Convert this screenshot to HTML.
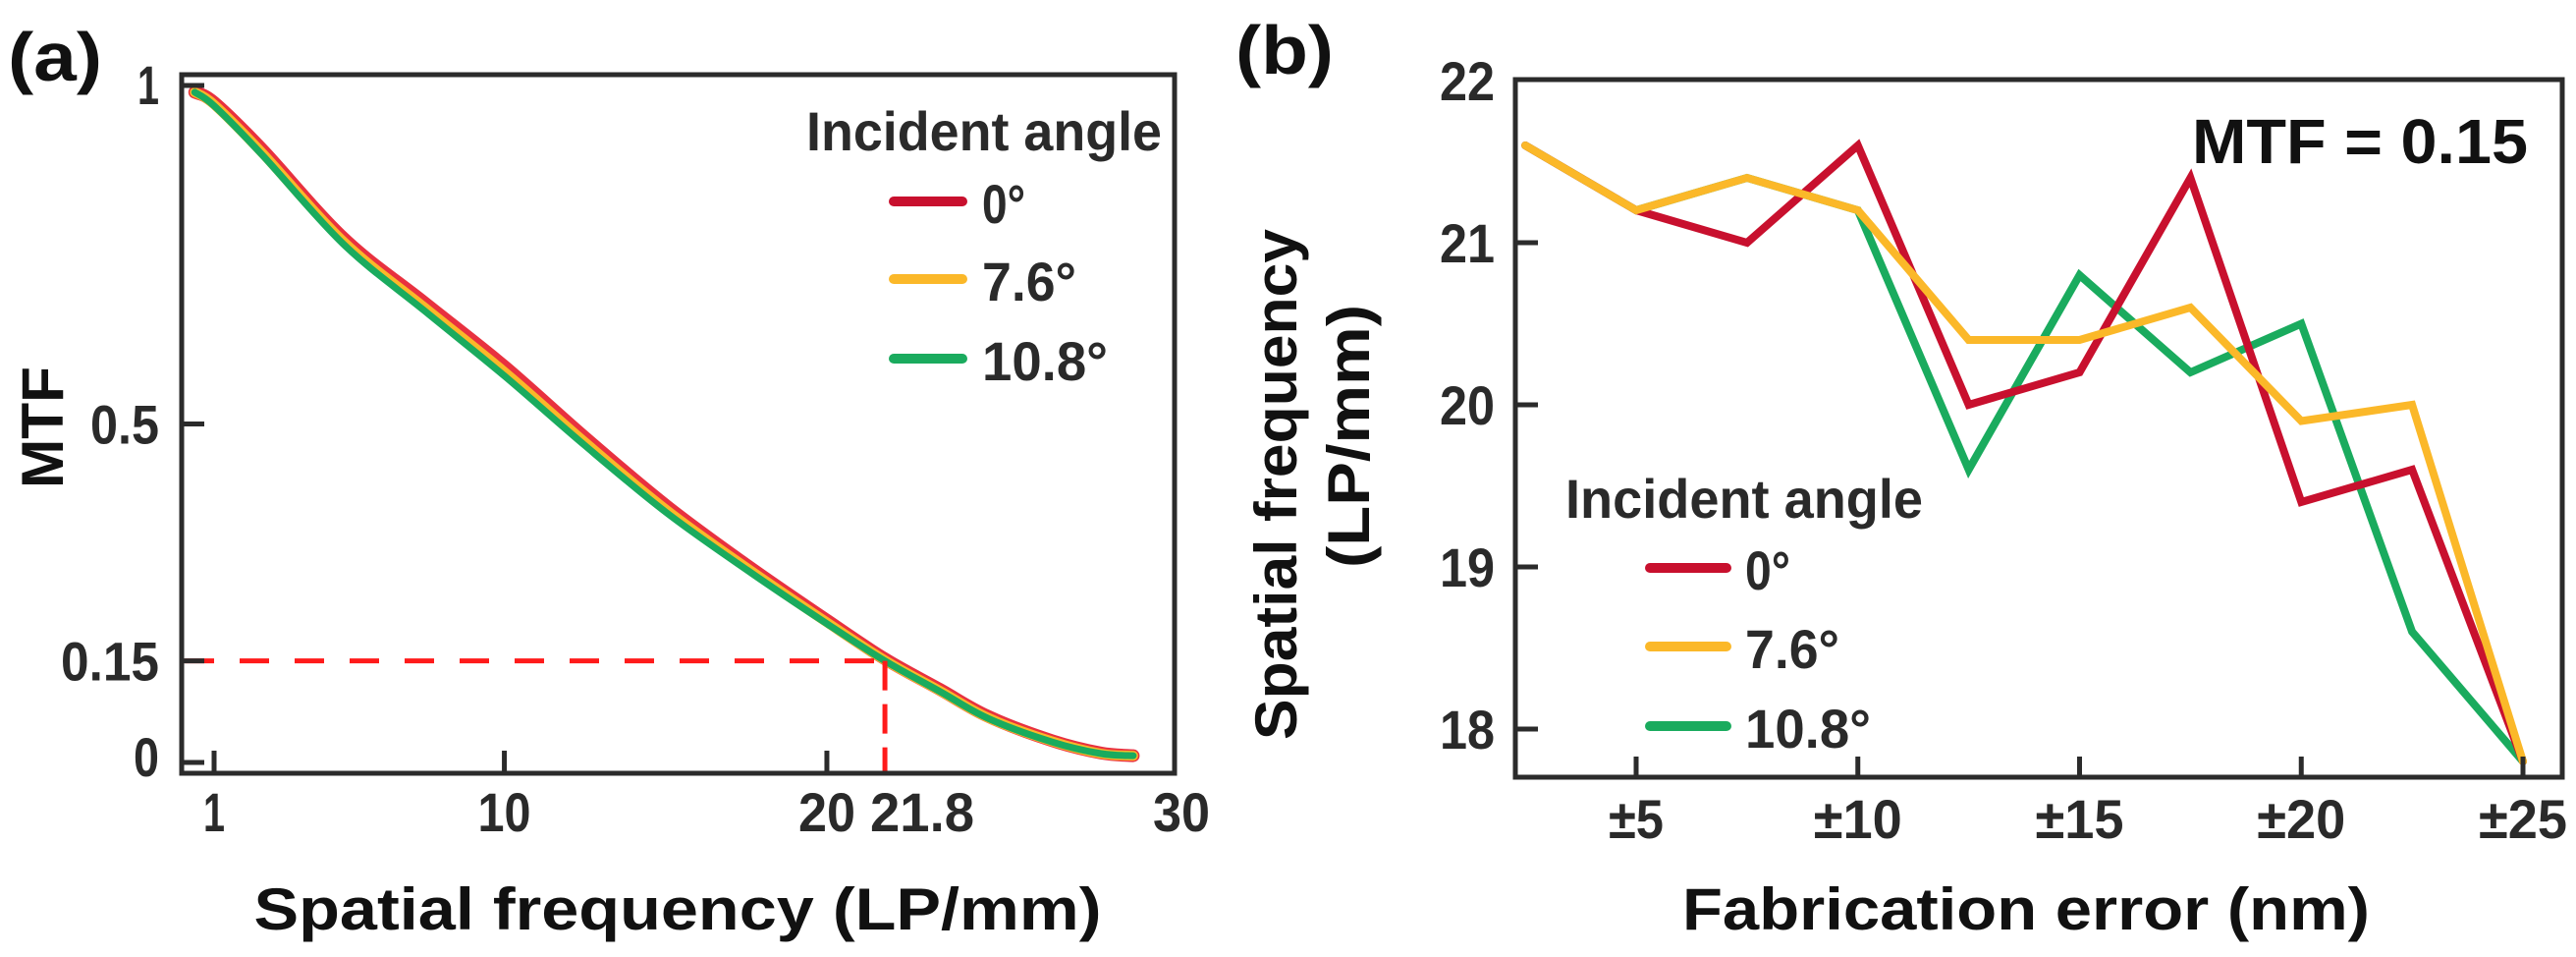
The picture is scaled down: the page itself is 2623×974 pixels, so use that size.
<!DOCTYPE html>
<html><head><meta charset="utf-8"><style>
html,body{margin:0;padding:0;background:#fff;}
svg{display:block;}
text{font-family:"Liberation Sans Narrow","Liberation Sans",sans-serif;}
.tk{font-size:56px;fill:#2a2a2a;font-weight:bold;}
.ttl{font-family:"Liberation Sans",sans-serif;font-weight:bold;font-size:60px;fill:#111;}
</style></head><body>
<svg id="fig" width="2623" height="974" viewBox="0 0 2623 974" xmlns="http://www.w3.org/2000/svg">
<g id="pa"></g>
<g id="pb"></g>
</svg>
<script>
// Panel (a) data
const aFreq = [0.4,1,2.5,5,7.5,10,12.5,15,17.5,20,21.8,23.5,25,27,28.5,29.5];
const aMTF0 = [0.99,0.975,0.905,0.775,0.68,0.585,0.48,0.38,0.292,0.21,0.153,0.108,0.068,0.032,0.014,0.01];
const aMTF76 = [0.99,0.972,0.9,0.77,0.673,0.577,0.473,0.374,0.288,0.207,0.151,0.106,0.066,0.031,0.013,0.01];
const aMTF108 = [0.99,0.97,0.897,0.766,0.668,0.571,0.468,0.37,0.285,0.205,0.15,0.105,0.065,0.03,0.013,0.01];
const aXTicks = [1,10,20,21.8,30];
const aXTickLabels = ["1","10","20","21.8","30"];
const aYTicks = [0,0.15,0.5,1];
const aYTickLabels = ["0","0.15","0.5","1"];
// Panel (b) data
const bErr = [2.5,5,7.5,10,12.5,15,17.5,20,22.5,25];
const bFreq0 = [21.6,21.2,21.0,21.6,20.0,20.2,21.4,19.4,19.6,17.8];
const bFreq76 = [21.6,21.2,21.4,21.2,20.4,20.4,20.6,19.9,20.0,17.8];
const bFreq108 = [21.6,21.2,21.4,21.2,19.6,20.8,20.2,20.5,18.6,17.8];
const bXTicks = [5,10,15,20,25];
const bXTickLabels = ["±5","±10","±15","±20","±25"];
const bYTicks = [18,19,20,21,22];
const bYTickLabels = ["18","19","20","21","22"];

const NS="http://www.w3.org/2000/svg";
function mk(parent,tag,attrs,txt){const e=document.createElementNS(NS,tag);for(const k in attrs)e.setAttribute(k,attrs[k]);if(txt!==undefined)e.textContent=txt;parent.appendChild(e);return e;}

const pa=document.getElementById('pa');
const ax=v=>218+(v-1)*32.84;
const ay=v=>776-v*689;
const RED="#c8102e",YEL="#fbb829",GRN="#1aab5e";
function pathOf(xs,ys,fx,fy){return xs.map((x,i)=>(i?'L':'M')+fx(x).toFixed(1)+','+fy(ys[i]).toFixed(1)).join(' ');}
function smoothOf(xs,ys,fx,fy){
  const P=xs.map((x,i)=>[fx(x),fy(ys[i])]);
  let d='M'+P[0][0].toFixed(1)+','+P[0][1].toFixed(1);
  for(let i=0;i<P.length-1;i++){
    const p0=P[i-1]||P[i],p1=P[i],p2=P[i+1],p3=P[i+2]||P[i+1];
    const c1=[p1[0]+(p2[0]-p0[0])/6,p1[1]+(p2[1]-p0[1])/6];
    const c2=[p2[0]-(p3[0]-p1[0])/6,p2[1]-(p3[1]-p1[1])/6];
    d+=' C'+c1.map(v=>v.toFixed(1)).join(',')+' '+c2.map(v=>v.toFixed(1)).join(',')+' '+p2.map(v=>v.toFixed(1)).join(',');
  }
  return d;
}
let e;
e=mk(pa,'path',{d:smoothOf(aFreq,aMTF0,ax,ay),fill:'none',stroke:'#e8313f','stroke-width':13,'stroke-linecap':'round','stroke-linejoin':'round'});


e=mk(pa,'path',{d:smoothOf(aFreq,aMTF76,ax,ay),fill:'none',stroke:YEL,'stroke-width':10,'stroke-linecap':'round','stroke-linejoin':'round'});


e=mk(pa,'path',{d:smoothOf(aFreq,aMTF108,ax,ay),fill:'none',stroke:GRN,'stroke-width':7,'stroke-linecap':'round','stroke-linejoin':'round'});


e=mk(pa,'line',{x1:188,y1:ay(0.15),x2:ax(21.8),y2:ay(0.15),stroke:'#ff1a1a','stroke-width':5,'stroke-dasharray':'30 26'});


e=mk(pa,'line',{x1:ax(21.8),y1:ay(0.15),x2:ax(21.8),y2:787,stroke:'#ff1a1a','stroke-width':5,'stroke-dasharray':'30 14'});


e=mk(pa,'rect',{x:185,y:76,width:1011,height:711,fill:'none',stroke:'#2b2b2b','stroke-width':5});


aXTicks.forEach((t,i)=>{
  if(t!==21.8 && t!==30){const l=mk(pa,'line',{x1:ax(t),y1:787,x2:ax(t),y2:764,stroke:'#2b2b2b','stroke-width':5});
  
  }
  let cx=ax(t); if(t===20)cx=842; if(t===21.8)cx=939; if(t===30)cx=1203;
  const w={"1":22,"10":54,"20":58,"21.8":106,"30":58}[aXTickLabels[i]];
  const tx=mk(pa,'text',{class:'tk',x:cx,y:846,'text-anchor':'middle',textLength:w,lengthAdjust:'spacingAndGlyphs'},aXTickLabels[i]);
  
  
});
aYTicks.forEach((t,i)=>{
  const l=mk(pa,'line',{x1:187,y1:ay(t),x2:208,y2:ay(t),stroke:'#2b2b2b','stroke-width':5});
  
  
  const w={"0":26,"0.15":100,"0.5":70,"1":22}[aYTickLabels[i]];
  let cy=ay(t)+20; if(t===1)cy=106; if(t===0)cy=790;
  const tx=mk(pa,'text',{class:'tk',x:162,y:cy,'text-anchor':'end',textLength:w,lengthAdjust:'spacingAndGlyphs'},aYTickLabels[i]);
  
  
});
e=mk(pa,'text',{class:'ttl',x:690,y:946,'text-anchor':'middle',textLength:863,lengthAdjust:'spacingAndGlyphs'},'Spatial frequency (LP/mm)');


e=mk(pa,'text',{class:'ttl',x:0,y:0,'text-anchor':'middle',transform:'translate(64,435) rotate(-90)',textLength:124,lengthAdjust:'spacingAndGlyphs','font-size':66},'MTF');


e=mk(pa,'text',{x:8,y:82,'font-size':70,'font-weight':'bold',fill:'#111',textLength:96,lengthAdjust:'spacingAndGlyphs'},'(a)');


e=mk(pa,'text',{class:'tk',x:821,y:153,textLength:362,lengthAdjust:'spacingAndGlyphs','font-size':54},'Incident angle');


[[RED,'0°',205,44],[YEL,'7.6°',284,96],[GRN,'10.8°',365,128]].forEach(([c,t,y,w])=>{
  const l=mk(pa,'line',{x1:910,y1:y,x2:980,y2:y,stroke:c,'stroke-width':10,'stroke-linecap':'round'});
  
  
  const tx=mk(pa,'text',{class:'tk',x:1000,y:y+22,textLength:w,lengthAdjust:'spacingAndGlyphs','font-size':60},t);
  
  
});

const pb=document.getElementById('pb');
const bx=v=>1666+(v-5)*45.15;
const by=v=>742-(v-18)*165;
[[bFreq108,GRN,'line-10-8deg'],[bFreq0,RED,'line-0deg'],[bFreq76,YEL,'line-7-6deg']].forEach(([ys,c,n])=>{
  const p=mk(pb,'path',{d:pathOf(bErr,ys,bx,by),fill:'none',stroke:c,'stroke-width':8,'stroke-linejoin':'miter','stroke-linecap':'round'});
  
  
});
e=mk(pb,'rect',{x:1543,y:81,width:1066,height:710,fill:'none',stroke:'#2b2b2b','stroke-width':5});


bXTicks.forEach((t,i)=>{
  const l=mk(pb,'line',{x1:bx(t),y1:789,x2:bx(t),y2:770,stroke:'#2b2b2b','stroke-width':5});
  
  
  const w=bXTickLabels[i].length===2?56:90;
  const tx=mk(pb,'text',{class:'tk',x:bx(t),y:853,'text-anchor':'middle',textLength:w,lengthAdjust:'spacingAndGlyphs'},bXTickLabels[i]);
  
  
});
bYTicks.forEach((t,i)=>{
  if(t!==22){const l=mk(pb,'line',{x1:1545,y1:by(t),x2:1566,y2:by(t),stroke:'#2b2b2b','stroke-width':5});
  
  }
  const tx=mk(pb,'text',{class:'tk',x:1522,y:by(t)+20,'text-anchor':'end',textLength:56,lengthAdjust:'spacingAndGlyphs'},bYTickLabels[i]);
  
  
});
e=mk(pb,'text',{class:'ttl',x:2063,y:946,'text-anchor':'middle',textLength:700,lengthAdjust:'spacingAndGlyphs'},'Fabrication error (nm)');


e=mk(pb,'text',{class:'ttl',x:0,y:0,'text-anchor':'middle',transform:'translate(1320,493) rotate(-90)',textLength:520,lengthAdjust:'spacingAndGlyphs'},'Spatial frequency');


e=mk(pb,'text',{class:'ttl',x:0,y:0,'text-anchor':'middle',transform:'translate(1394,444) rotate(-90)',textLength:268,lengthAdjust:'spacingAndGlyphs'},'(LP/mm)');


e=mk(pb,'text',{x:1258,y:75,'font-size':70,'font-weight':'bold',fill:'#111',textLength:100,lengthAdjust:'spacingAndGlyphs'},'(b)');


e=mk(pb,'text',{x:2232,y:166,'font-size':64,'font-weight':'bold',fill:'#111',textLength:342,lengthAdjust:'spacingAndGlyphs'},'MTF = 0.15');


e=mk(pb,'text',{class:'tk',x:1594,y:527,textLength:364,lengthAdjust:'spacingAndGlyphs','font-size':54},'Incident angle');


[[RED,'0°',578,46],[YEL,'7.6°',658,96],[GRN,'10.8°',739,128]].forEach(([c,t,y,w])=>{
  const l=mk(pb,'line',{x1:1680,y1:y,x2:1758,y2:y,stroke:c,'stroke-width':10,'stroke-linecap':'round'});
  
  
  const tx=mk(pb,'text',{class:'tk',x:1777,y:y+22,textLength:w,lengthAdjust:'spacingAndGlyphs','font-size':60},t);
  
  
});
</script>
</body></html>
